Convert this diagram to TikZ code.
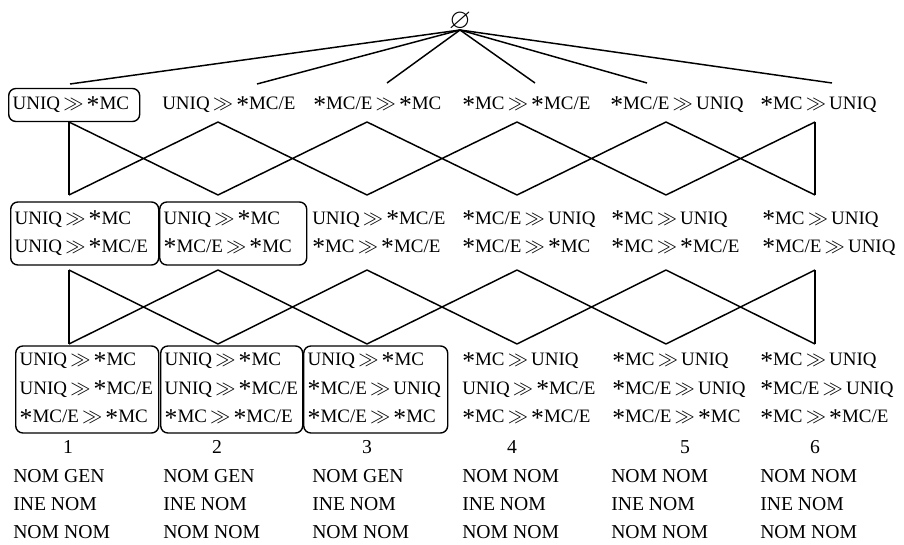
\documentclass[tikz,border=0pt]{standalone}
\usepackage{amssymb}
\usepackage{fontspec}
\setmainfont{Liberation Serif}
\usetikzlibrary{calc}
\newcommand{\st}{\raisebox{-0.2em}{\scalebox{1.35}{*}}}
\newcommand{\rk}[2]{\mbox{#1\,$\gg$\,#2}}
\tikzset{
	cell/.style={anchor=west, align=left, inner xsep=1mm, inner ysep=0pt, text width=#1, font=\fontsize{13.5}{19.9}\selectfont},
	cell/.default=36mm,
	one/.style={minimum height=8.25mm},
	two/.style={minimum height=15.75mm},
	three/.style={minimum height=21.75mm, font=\fontsize{13.5}{20.3}\selectfont},
	boxed/.style={draw, line width=1pt, rounded corners=1.8mm},
	lab/.style={anchor=base west, inner sep=0, font=\fontsize{14}{16}\selectfont},
	num/.style={anchor=base, inner sep=0, font=\fontsize{14}{16}\selectfont},
	edge/.style={line width=1.05pt}
}
\begin{document}
\begin{tikzpicture}[x=0.25mm, y=-0.25mm]
	\useasboundingbox (0,0) rectangle (904,545);
	\node[anchor=south, inner sep=0, text height=4.2mm, text depth=0.3mm, font=\fontsize{20}{20}\selectfont] (root) at (460,30) {$\varnothing$};

	\node[cell=30.75mm, one, boxed] (r1a) at (8,105) {\rk{UNIQ}{\st MC}};
	\node[cell, one] (r1b) at (158,105) {\rk{UNIQ}{\st MC/E}};
	\node[cell, one] (r1c) at (309,105) {\rk{\st MC/E}{\st MC}};
	\node[cell, one] (r1d) at (458,105) {\rk{\st MC}{\st MC/E}};
	\node[cell, one] (r1e) at (606,105) {\rk{\st MC/E}{UNIQ}};
	\node[cell, one] (r1f) at (756,105) {\rk{\st MC}{UNIQ}};

	\node[cell=35mm, two, boxed] (r2a) at (10,233.5) {\rk{UNIQ}{\st MC}\\\rk{UNIQ}{\st MC/E}};
	\node[cell=34.75mm, two, boxed] (r2b) at (159,233.5) {\rk{UNIQ}{\st MC}\\\rk{\st MC/E}{\st MC}};
	\node[cell, two] (r2c) at (308,233.5) {\rk{UNIQ}{\st MC/E}\\\rk{\st MC}{\st MC/E}};
	\node[cell, two] (r2d) at (458,233.5) {\rk{\st MC/E}{UNIQ}\\\rk{\st MC/E}{\st MC}};
	\node[cell, two] (r2e) at (607,233.5) {\rk{\st MC}{UNIQ}\\\rk{\st MC}{\st MC/E}};
	\node[cell, two] (r2f) at (758,233.5) {\rk{\st MC}{UNIQ}\\\rk{\st MC/E}{UNIQ}};

	\node[cell=33.75mm, three, boxed] (r3a) at (15,389.5) {\rk{UNIQ}{\st MC}\\\rk{UNIQ}{\st MC/E}\\\rk{\st MC/E}{\st MC}};
	\node[cell=33.5mm, three, boxed] (r3b) at (160,389.5) {\rk{UNIQ}{\st MC}\\\rk{UNIQ}{\st MC/E}\\\rk{\st MC}{\st MC/E}};
	\node[cell=34mm, three, boxed] (r3c) at (303,389.5) {\rk{UNIQ}{\st MC}\\\rk{\st MC/E}{UNIQ}\\\rk{\st MC/E}{\st MC}};
	\node[cell, three] (r3d) at (458,389.5) {\rk{\st MC}{UNIQ}\\\rk{UNIQ}{\st MC/E}\\\rk{\st MC}{\st MC/E}};
	\node[cell, three] (r3e) at (608,389.5) {\rk{\st MC}{UNIQ}\\\rk{\st MC/E}{UNIQ}\\\rk{\st MC/E}{\st MC}};
	\node[cell, three] (r3f) at (756,389.5) {\rk{\st MC}{UNIQ}\\\rk{\st MC/E}{UNIQ}\\\rk{\st MC}{\st MC/E}};

	\foreach \x/\n in {68/1, 217/2, 367/3, 512/4, 685/5, 815/6}
		\node[num] (n\n) at (\x,453) {\n};

	\foreach \x/\s [count=\i] in {13/GEN, 163/GEN, 312/GEN, 462/NOM, 611/NOM, 760/NOM} {
		\node[lab] (k\i a) at (\x,482) {NOM \s};
		\node[lab] (k\i b) at (\x,510) {INE NOM};
		\node[lab] (k\i c) at (\x,538) {NOM NOM};
	}

	\coordinate (e1) at (70,84);
	\coordinate (e2) at (257,84);
	\coordinate (e3) at (387,83);
	\coordinate (e4) at (535,83);
	\coordinate (e5) at (647,83);
	\coordinate (e6) at (832,83);
	\foreach \i in {1,...,6}
		\draw[edge] (root.south) -- (e\i);

	\foreach \x [count=\i] in {69,218,367,517,666,815} {
		\coordinate (a\i) at (\x,122);
		\coordinate (b\i) at (\x,195);
		\coordinate (c\i) at (\x,270);
		\coordinate (d\i) at (\x,344);
	}
	\draw[edge] (a1) -- (b1) (a6) -- (b6) (c1) -- (d1) (c6) -- (d6);
	\foreach \i/\j in {1/2, 2/3, 3/4, 4/5, 5/6}
		\draw[edge] (a\i) -- (b\j) (a\j) -- (b\i) (c\i) -- (d\j) (c\j) -- (d\i);
\end{tikzpicture}
\end{document}
